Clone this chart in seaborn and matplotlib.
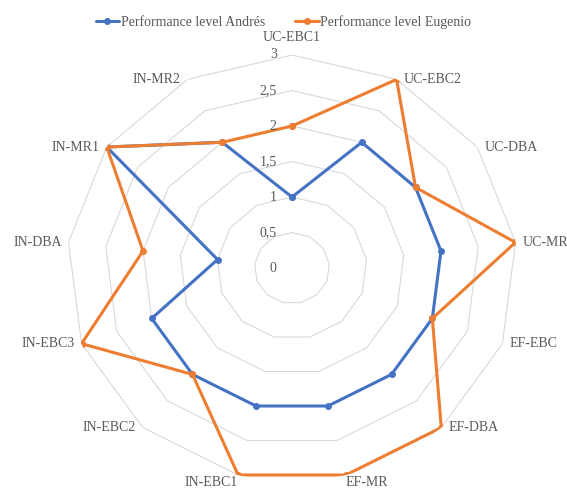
import numpy as np
import pandas as pd
import matplotlib
matplotlib.use("Agg")
import matplotlib.pyplot as plt
import seaborn as sns

# Performance levels per competence
categories = ["UC-EBC1", "UC-EBC2", "UC-DBA", "UC-MR", "EF-EBC", "EF-DBA", "EF-MR",
              "IN-EBC1", "IN-EBC2", "IN-EBC3", "IN-DBA", "IN-MR1", "IN-MR2"]
andres = [1, 2, 2, 2, 2, 2, 2, 2, 2, 2, 1, 3, 2]
eugenio = [2, 3, 2, 3, 2, 3, 3, 3, 2, 3, 2, 3, 2]
series_names = ["Performance level Andrés", "Performance level Eugenio"]
r_ticks = [0, 0.5, 1, 1.5, 2, 2.5, 3]
r_labels = ["0", "0,5", "1", "1,5", "2", "2,5", "3"]

sns.set_style("white")
plt.rcParams["font.family"] = ["Liberation Serif", "DejaVu Serif"]

n = len(categories)
theta = np.linspace(0, 2 * np.pi, n, endpoint=False)
theta_closed = np.append(theta, 2 * np.pi)

# long-format table for seaborn
rows = []
for name, vals in zip(series_names, [andres, eugenio]):
    closed = list(vals) + [vals[0]]
    for i, (t, v) in enumerate(zip(theta_closed, closed)):
        rows.append({"order": i, "theta": t, "value": v, "series": name})
df = pd.DataFrame(rows)

fig = plt.figure(figsize=(5.67, 4.91), dpi=100)
ax = fig.add_axes([0.118, 0.02, 0.794, 0.868], projection="polar")
ax.set_aspect("auto")
ax.set_theta_zero_location("N")
ax.set_theta_direction(-1)
ax.set_ylim(0, 3)
ax.grid(False)
ax.spines["polar"].set_visible(False)
ax.set_xticks([])
ax.set_yticks([])

# polygon gridlines like Excel
for r in r_ticks[1:]:
    ax.plot(theta_closed, [r] * (n + 1), color="#d9d9d9", lw=0.8, zorder=1)

colors = {"Performance level Andrés": "#4472C4", "Performance level Eugenio": "#ED7D31"}
sns.lineplot(data=df, x="theta", y="value", hue="series", palette=colors,
             sort=False, estimator=None, units="series", marker="o", markersize=5,
             markeredgewidth=0, linewidth=2.2, ax=ax, zorder=3)
ax.set_xlabel("")
ax.set_ylabel("")

# radial value labels
for r, lab in zip(r_ticks, r_labels):
    ax.annotate(lab, xy=(0, r), xytext=(-11, 0), textcoords="offset points",
                ha="right", va="center", fontsize=10, color="#595959")

# category labels around the outside
for t, lab in zip(theta, categories):
    s, c = np.sin(t), np.cos(t)
    if c < -0.9:
        ha = "left" if s > 0 else "right"
        va = "top"
        off = (0, -1)
    elif abs(s) < 0.1:
        ha, va, off = "center", "bottom", (0, 8)
    else:
        ha = "left" if s > 0 else "right"
        va = "center"
        off = (5 * np.sign(s), 0)
    ax.annotate(lab, xy=(t, 3), xytext=off, textcoords="offset points",
                ha=ha, va=va, fontsize=10, color="#595959", annotation_clip=False)

leg = ax.legend(loc="upper center", ncol=2, frameon=False, fontsize=10,
                handlelength=1.7, columnspacing=2.2, handletextpad=0.1)
leg.set_bbox_to_anchor((0.5, 0.995), transform=fig.transFigure)
for txt in leg.get_texts():
    txt.set_color("#595959")

fig.savefig("out.png", dpi=100)
